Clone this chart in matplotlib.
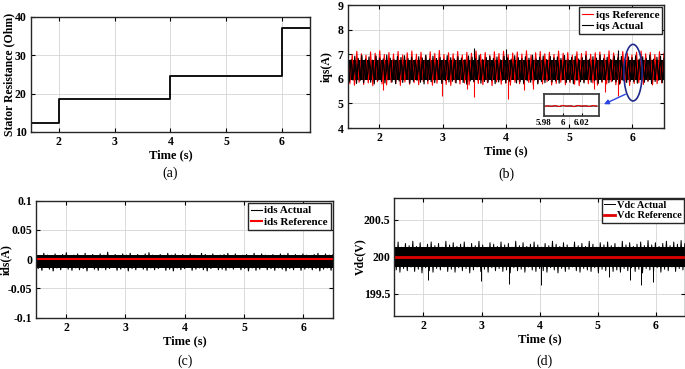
import numpy as np
import matplotlib
matplotlib.use("Agg")
import matplotlib.pyplot as plt
from matplotlib.patches import Ellipse

plt.rcParams['font.family'] = ['Liberation Serif', 'DejaVu Serif']
plt.rcParams['font.weight'] = 'bold'
plt.rcParams['axes.labelweight'] = 'bold'

# (a) stator resistance steps
rs_edges = [1.5, 2, 4, 6, 6.5]
rs_values = [12.3, 18.5, 24.7, 37.0]

# (b) iqs -- peak values of the noise band
iqs_act_hi = [6.86, 6.78, 6.92, 6.83, 6.95, 6.80, 6.89, 6.76, 6.93, 6.85,
              6.81, 6.97, 6.84, 6.79, 6.91, 6.87, 6.94, 6.82, 6.88, 6.77,
              6.90, 6.85, 6.96, 6.80, 6.92, 6.83, 6.87, 6.79, 6.94, 6.86,
              6.81, 6.90, 6.84, 6.78, 6.93, 6.88, 6.82, 6.95, 6.79, 6.87,
              6.91, 6.83, 6.89, 6.77, 6.92, 6.85, 6.80, 6.94, 6.86, 6.82,
              6.90, 6.84, 6.96, 6.81, 6.88, 6.93, 6.79, 6.91, 6.85, 6.89,
              6.83, 6.95, 6.78, 6.87, 6.92, 6.81, 6.86, 6.94, 6.80, 6.90,
              6.84, 6.97, 6.82, 6.88, 6.79, 6.93, 6.85, 6.91, 6.77, 6.89,
              6.86, 6.94, 6.81, 6.90, 6.83, 6.96, 6.80, 6.88, 6.92, 6.85]
iqs_act_lo = [5.88, 5.95, 5.81, 5.92, 5.84, 5.97, 5.86, 5.79, 5.93, 5.89,
              5.83, 5.96, 5.87, 5.80, 5.91, 5.85, 5.98, 5.82, 5.90, 5.94,
              5.86, 5.79, 5.92, 5.88, 5.84, 5.97, 5.81, 5.93, 5.87, 5.90,
              5.83, 5.95, 5.85, 5.78, 5.91, 5.88, 5.96, 5.82, 5.89, 5.86,
              5.93, 5.80, 5.87, 5.94, 5.84, 5.90, 5.97, 5.83, 5.88, 5.81,
              5.92, 5.86, 5.95, 5.79, 5.89, 5.84, 5.93, 5.87, 5.91, 5.82,
              5.96, 5.85, 5.90, 5.80, 5.94, 5.88, 5.83, 5.97, 5.86, 5.92,
              5.81, 5.89, 5.95, 5.84, 5.91, 5.87, 5.78, 5.93, 5.85, 5.90,
              5.88, 5.82, 5.96, 5.86, 5.92, 5.80, 5.89, 5.94, 5.84, 5.87]
iqs_ref_hi = [7.05, 6.98, 7.12, 7.02, 6.96, 7.09, 7.04, 7.14, 6.99, 7.07,
              7.01, 7.11, 6.97, 7.06, 7.13, 7.00, 7.08, 6.95, 7.10, 7.03,
              7.15, 6.99, 7.06, 7.02, 7.11, 6.97, 7.08, 7.04, 7.13, 7.00,
              7.07, 6.96, 7.10, 7.03, 7.12, 6.98, 7.05, 7.09, 7.01, 7.14,
              6.97, 7.06, 7.11, 7.02, 7.08, 6.99, 7.13, 7.04, 7.07, 6.96,
              7.10, 7.03, 7.12, 7.00, 7.06, 7.09, 6.98, 7.14, 7.05, 7.01,
              7.11, 7.04, 6.97, 7.08, 7.13, 7.02, 7.07, 6.99, 7.10, 7.05]
iqs_ref_lo = [5.80, 5.74, 5.86, 5.77, 5.83, 5.72, 5.88, 5.79, 5.75, 5.85,
              5.81, 5.73, 5.87, 5.78, 5.84, 5.76, 5.89, 5.80, 5.74, 5.82,
              5.86, 5.77, 5.73, 5.85, 5.79, 5.83, 5.75, 5.88, 5.81, 5.76,
              5.84, 5.72, 5.87, 5.78, 5.82, 5.74, 5.86, 5.80, 5.77, 5.85,
              5.73, 5.83, 5.79, 5.88, 5.75, 5.81, 5.86, 5.76, 5.84, 5.78,
              5.72, 5.87, 5.80, 5.83, 5.74, 5.85, 5.79, 5.88, 5.76, 5.82,
              5.86, 5.73, 5.81, 5.84, 5.77, 5.89, 5.75, 5.80, 5.83, 5.78]
iqs_core = (5.95, 6.76)   # solid part of the band
iqs_mean = 6.35
iqs_ref_spike_t = [2.06, 2.99, 3.38, 3.49, 4.04, 4.28, 4.43, 5.39, 5.57, 5.78]
iqs_ref_spike_v = [5.55, 5.29, 5.57, 5.26, 5.16, 5.55, 5.60, 5.60, 5.45, 5.32]
iqs_act_spike_t = [3.49, 4.00, 5.78]
iqs_act_spike_v = [7.26, 7.20, 7.16]

# zoomed inset of iqs around t = 6 s
inset_t = [5.980, 5.984, 5.988, 5.992, 5.996, 6.000, 6.004, 6.008,
           6.012, 6.016, 6.020, 6.024, 6.028, 6.032, 6.036]
inset_ref = [6.30, 6.38, 6.32, 6.41, 6.29, 6.44, 6.33, 6.40,
             6.28, 6.43, 6.35, 6.39, 6.30, 6.42, 6.34]
inset_act = [6.33, 6.36, 6.34, 6.37, 6.31, 6.39, 6.35, 6.36,
             6.32, 6.38, 6.34, 6.36, 6.33, 6.37, 6.35]

# (c) ids
ids_hi = [0.008, 0.005, 0.010, 0.007, 0.006, 0.009, 0.004, 0.008, 0.011, 0.006,
          0.007, 0.009, 0.005, 0.010, 0.006, 0.008, 0.004, 0.009, 0.007, 0.012,
          0.006, 0.008, 0.005, 0.009, 0.007, 0.010, 0.006, 0.008, 0.004, 0.009,
          0.011, 0.007, 0.005, 0.008, 0.006, 0.010, 0.007, 0.009, 0.005, 0.008,
          0.006, 0.009, 0.007, 0.004, 0.010, 0.008, 0.006, 0.009, 0.005, 0.007,
          0.008, 0.010, 0.006, 0.009, 0.004, 0.007, 0.008, 0.005, 0.010, 0.006,
          0.009, 0.007, 0.005, 0.008, 0.006, 0.009, 0.007, 0.010, 0.005, 0.008,
          0.006, 0.009, 0.007, 0.004, 0.008, 0.010, 0.006, 0.009, 0.007, 0.008]
ids_lo = [-0.016, -0.019, -0.014, -0.017, -0.020, -0.015, -0.018, -0.013, -0.017, -0.019,
          -0.015, -0.018, -0.016, -0.020, -0.014, -0.017, -0.019, -0.015, -0.018, -0.016,
          -0.013, -0.019, -0.017, -0.015, -0.020, -0.016, -0.018, -0.014, -0.017, -0.019,
          -0.015, -0.018, -0.016, -0.013, -0.019, -0.017, -0.020, -0.015, -0.018, -0.016,
          -0.014, -0.019, -0.017, -0.015, -0.018, -0.020, -0.016, -0.014, -0.018, -0.017,
          -0.019, -0.015, -0.017, -0.013, -0.018, -0.016, -0.020, -0.015, -0.019, -0.017,
          -0.014, -0.018, -0.016, -0.019, -0.015, -0.017, -0.020, -0.016, -0.018, -0.014,
          -0.019, -0.017, -0.015, -0.018, -0.016, -0.020, -0.017, -0.015, -0.019, -0.016]
ids_core = (-0.0145, 0.0065)
ids_ref = 0.0

# (d) Vdc
vdc_hi = [200.16, 200.20, 200.13, 200.18, 200.15, 200.21, 200.14, 200.19, 200.12, 200.17,
          200.20, 200.15, 200.18, 200.13, 200.21, 200.16, 200.19, 200.14, 200.17, 200.20,
          200.13, 200.18, 200.15, 200.21, 200.16, 200.12, 200.19, 200.17, 200.14, 200.20,
          200.16, 200.18, 200.13, 200.21, 200.15, 200.19, 200.14, 200.17, 200.20, 200.16,
          200.13, 200.18, 200.15, 200.21, 200.17, 200.14, 200.19, 200.16, 200.12, 200.20,
          200.15, 200.18, 200.14, 200.21, 200.17, 200.13, 200.19, 200.16, 200.20, 200.15,
          200.18, 200.13, 200.21, 200.16, 200.19, 200.14, 200.17, 200.20, 200.15, 200.22,
          200.16, 200.19, 200.14, 200.18, 200.21, 200.15, 200.20, 200.17, 200.22, 200.18]
vdc_lo = [199.82, 199.79, 199.84, 199.81, 199.86, 199.80, 199.83, 199.78, 199.85, 199.81,
          199.79, 199.84, 199.82, 199.86, 199.80, 199.83, 199.79, 199.85, 199.81, 199.84,
          199.78, 199.82, 199.86, 199.80, 199.83, 199.79, 199.85, 199.81, 199.84, 199.80,
          199.82, 199.78, 199.85, 199.81, 199.83, 199.79, 199.86, 199.82, 199.80, 199.84,
          199.81, 199.79, 199.85, 199.82, 199.78, 199.84, 199.80, 199.83, 199.86, 199.81,
          199.79, 199.84, 199.82, 199.80, 199.85, 199.78, 199.83, 199.81, 199.86, 199.80,
          199.82, 199.79, 199.84, 199.81, 199.85, 199.80, 199.83, 199.78, 199.84, 199.82,
          199.80, 199.85, 199.79, 199.83, 199.81, 199.86, 199.80, 199.84, 199.82, 199.79]
vdc_core = (199.86, 200.13)
vdc_mean = 200.0
vdc_spike_t = [2.07, 2.99, 3.48, 4.03, 5.20, 5.56, 5.75, 5.95]
vdc_spike_v = [199.69, 199.67, 199.63, 199.62, 199.72, 199.68, 199.62, 199.66]
vdc_ref = 200.0

t_start, t_end = 1.5, 6.5
time_ticks = [2, 3, 4, 5, 6]


def noise_band(ax, hi, lo, color, lw, label=None):
    # zig-zag between the upper and lower peaks, like a dense sampled signal
    th = np.linspace(t_start, t_end, len(hi))
    tl = np.linspace(t_start, t_end, len(lo)) + 0.5 * (t_end - t_start) / len(lo)
    t = np.concatenate([th, tl])
    v = np.concatenate([hi, lo])
    idx = np.argsort(t, kind='stable')
    ax.plot(t[idx], v[idx], color=color, lw=lw, label=label)


def core_fill(ax, core, color):
    ax.fill_between([t_start, t_end], core[0], core[1], color=color, lw=0)


def style_axes(ax, yticks, ylim, ylabel, label_x):
    ax.set_xlim(t_start, t_end)
    ax.set_ylim(*ylim)
    ax.set_xticks(time_ticks)
    ax.set_yticks(yticks)
    ax.grid(True, color='#d4d4d4', lw=0.6)
    ax.set_axisbelow(True)
    ax.tick_params(direction='in', length=3, width=0.8, labelsize=8.5, top=True, right=True, pad=3)
    for lab in ax.get_xticklabels() + ax.get_yticklabels():
        lab.set_fontweight('bold')
    for sp in ax.spines.values():
        sp.set_color('#262626')
        sp.set_linewidth(1.0)
    ax.set_xlabel('Time (s)', fontsize=9, labelpad=1)
    ax.set_ylabel(ylabel, fontsize=8.5)
    ax.yaxis.set_label_coords(label_x, 0.5)


fig = plt.figure(figsize=(6.85, 3.69), dpi=100)

# (a)
ax1 = fig.add_axes([0.0453, 0.6423, 0.407, 0.3117])
ax1.step(rs_edges, rs_values + [rs_values[-1]], where='post', color='black', lw=1.3)
style_axes(ax1, [10, 20, 30, 40], (10, 40), 'Stator Resistance (Ohm)', -0.057)

# (b)
ax2 = fig.add_axes([0.5075, 0.6531, 0.4619, 0.3333])
noise_band(ax2, iqs_ref_hi, iqs_ref_lo, 'red', 0.8, 'iqs Reference')
ax2.vlines(iqs_ref_spike_t, iqs_mean, iqs_ref_spike_v, color='red', lw=0.8)
core_fill(ax2, iqs_core, 'black')
noise_band(ax2, iqs_act_hi, iqs_act_lo, 'black', 0.8, 'iqs Actual')
ax2.vlines(iqs_act_spike_t, iqs_mean, iqs_act_spike_v, color='black', lw=0.8)
style_axes(ax2, [4, 5, 6, 7, 8, 9], (4, 9), 'iqs(A)', -0.046)
ax2.legend(loc='upper right', fancybox=False, edgecolor='#262626',
           framealpha=1, handlelength=1.0, handletextpad=0.2, labelspacing=0.15,
           borderpad=0.25, borderaxespad=0.2, prop={'weight': 'bold', 'size': 8})
ax2.add_patch(Ellipse((6.01, 6.25), 0.29, 2.3, fill=False, edgecolor='#1f2a8a', lw=1.2, zorder=5))

axin = fig.add_axes([0.794, 0.6856, 0.0803, 0.0596])
axin.plot(inset_t, inset_act, color='black', lw=0.8)
axin.plot(inset_t, inset_ref, color='red', lw=0.7)
axin.set_xlim(5.98, 6.038)
axin.set_ylim(5.2, 7.75)
axin.set_xticks([5.98, 6.0, 6.02])
axin.set_xticklabels(['5.98', '6', '6.02'])
axin.set_yticks([])
axin.grid(True, axis='x', color='#d4d4d4', lw=0.6)
axin.tick_params(direction='in', length=2, labelsize=6.5, pad=2)
for sp in axin.spines.values():
    sp.set_color('#404040')
    sp.set_linewidth(1.3)
ax2.annotate('', xy=(5.51, 4.92), xytext=(5.93, 5.42),
             arrowprops=dict(arrowstyle='-|>', color='#2a45e0', lw=1.0, mutation_scale=7), zorder=6)

# (c)
ax3 = fig.add_axes([0.053, 0.139, 0.4331, 0.3171])
core_fill(ax3, ids_core, 'black')
noise_band(ax3, ids_hi, ids_lo, 'black', 0.8, 'ids Actual')
ax3.axhline(ids_ref, color='red', lw=1.5, label='ids Reference')
style_axes(ax3, [-0.1, -0.05, 0, 0.05, 0.1], (-0.1, 0.1), 'ids(A)', -0.08)
ax3.set_yticklabels(['-0.1', '-0.05', '0', '0.05', '0.1'], fontweight='bold')
ax3.legend(loc='upper right', fancybox=False, edgecolor='#262626', framealpha=1,
           handlelength=1.0, handletextpad=0.2, labelspacing=0.15, borderpad=0.25,
           borderaxespad=0.2, prop={'weight': 'bold', 'size': 8})

# (d)
ax4 = fig.add_axes([0.5758, 0.1444, 0.4239, 0.3198])
core_fill(ax4, vdc_core, 'black')
noise_band(ax4, vdc_hi, vdc_lo, 'black', 0.7, 'Vdc Actual')
ax4.vlines(vdc_spike_t, vdc_mean, vdc_spike_v, color='black', lw=0.7)
ax4.axhline(vdc_ref, color='#e00000', lw=2.0, label='Vdc Reference')
style_axes(ax4, [199.5, 200, 200.5], (199.2, 200.8), 'Vdc(V)', -0.098)
ax4.set_yticklabels(['199.5', '200', '200.5'], fontweight='bold')
ax4.legend(loc='upper right', fancybox=False, edgecolor='#262626', framealpha=1,
           handlelength=1.0, handletextpad=0.2, labelspacing=0.1, borderpad=0.2,
           borderaxespad=0.1, prop={'weight': 'bold', 'size': 7.5})

# captions
for x, y, s in [(0.248, 0.531, '(a)'), (0.74, 0.528, '(b)'), (0.27, 0.02, '(c)'), (0.795, 0.02, '(d)')]:
    fig.text(x, y, s, ha='center', va='center', fontsize=10, fontweight='normal')

fig.savefig('out.png', dpi=100)
